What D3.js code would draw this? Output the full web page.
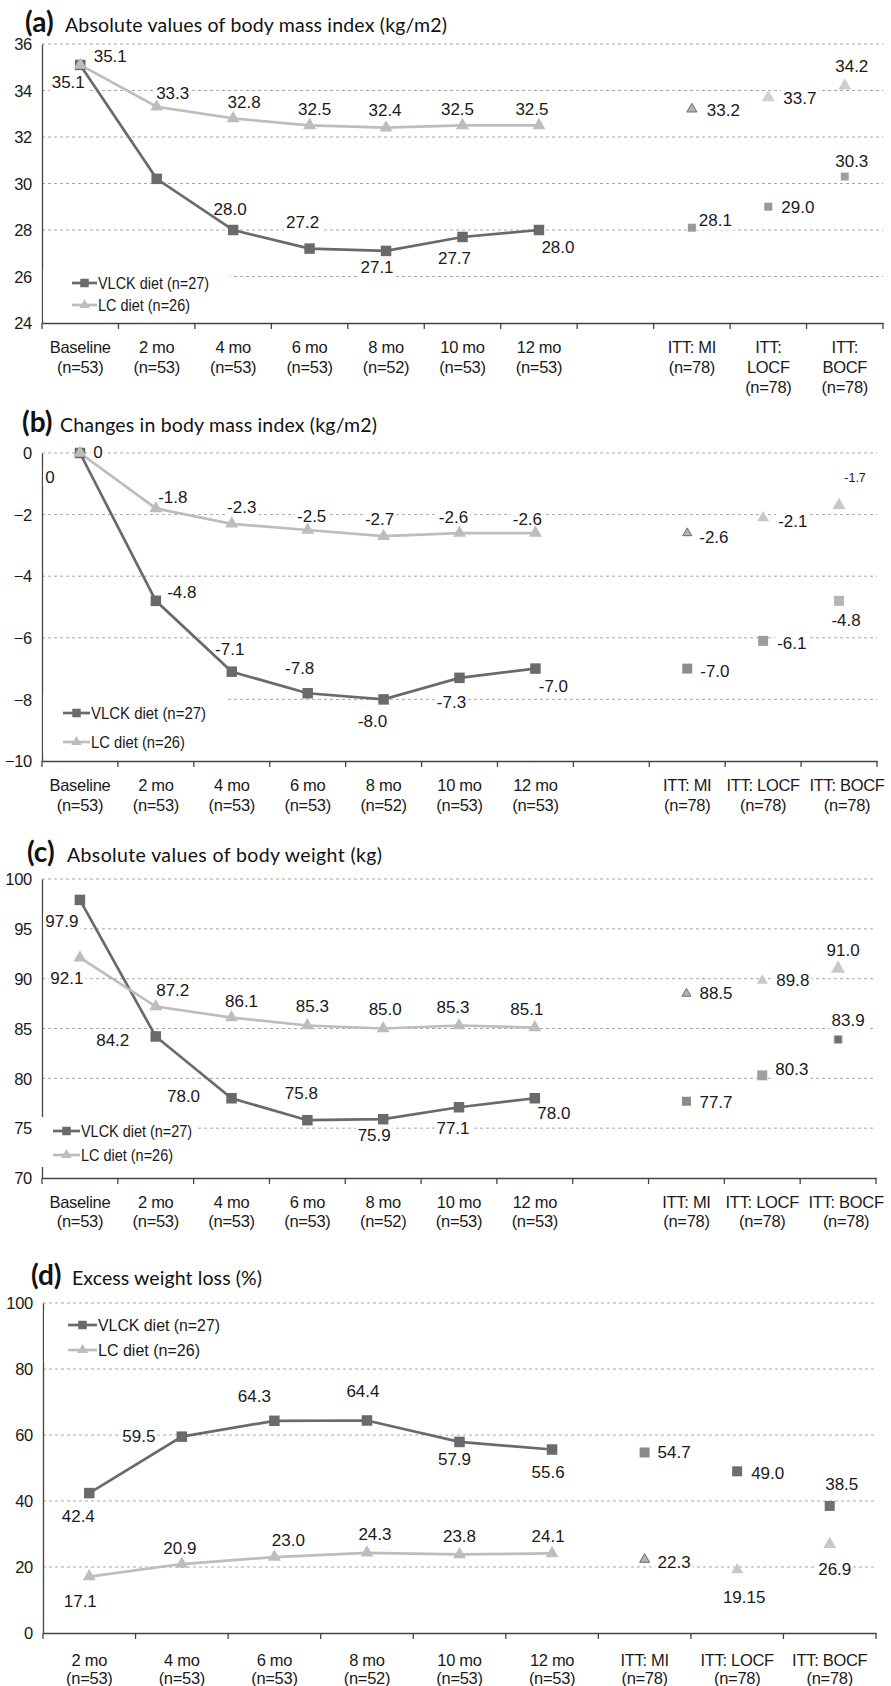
<!DOCTYPE html>
<html>
<head>
<meta charset="utf-8">
<script src="https://cdn.jsdelivr.net/npm/d3@7"></script>
<style>
  body { margin: 0; background: #fff; }
  svg { display: block; font-family: Arial, "Liberation Sans", Helvetica, sans-serif; }
  .title { font-family: Lato, "Open Sans", sans-serif; fill: #111; }
  .grid line { stroke: #a8a8a8; stroke-dasharray: 3, 3; stroke-width: 1; }
  .axis path, .axis line { stroke: #444; stroke-width: 1.3; }
  .axis text { fill: #1a1a1a; font-size: 16.5px; letter-spacing: -0.3px; font-family: Arial, "Liberation Sans", Helvetica, sans-serif; }
  .lbl { fill: #1a1a1a; font-size: 17px; }
  .leg { fill: #1a1a1a; font-size: 16px; }
</style>
</head>
<body>
<svg id="chart"></svg>
<script>
// categories (x tick labels, "\n" = new line)
var timeCats = ["Baseline\n(n=53)", "2 mo\n(n=53)", "4 mo\n(n=53)", "6 mo\n(n=53)",
  "8 mo\n(n=52)", "10 mo\n(n=53)", "12 mo\n(n=53)"];
var ittCatsA = ["ITT: MI\n(n=78)", "ITT:\nLOCF\n(n=78)", "ITT:\nBOCF\n(n=78)"];
var ittCatsBC = ["ITT: MI\n(n=78)", "ITT: LOCF\n(n=78)", "ITT: BOCF\n(n=78)"];
var seriesNames = ["VLCK diet (n=27)", "LC diet (n=26)"];

// (a) absolute BMI
var yTicksA = [24, 26, 28, 30, 32, 34, 36];
var vlckA = [35.1, 30.2, 28.0, 27.2, 27.1, 27.7, 28.0];
var lcA = [35.1, 33.3, 32.8, 32.5, 32.4, 32.5, 32.5];
var ittVlckA = [28.1, 29.0, 30.3];
var ittLcA = [33.2, 33.7, 34.2];

// (b) change in BMI
var yTicksB = [-10, -8, -6, -4, -2, 0];
var vlckB = [0, -4.8, -7.1, -7.8, -8.0, -7.3, -7.0];
var lcB = [0, -1.8, -2.3, -2.5, -2.7, -2.6, -2.6];
var ittVlckB = [-7.0, -6.1, -4.8];
var ittLcB = [-2.6, -2.1, -1.7];

// (c) body weight
var yTicksC = [70, 75, 80, 85, 90, 95, 100];
var vlckC = [97.9, 84.2, 78.0, 75.8, 75.9, 77.1, 78.0];
var lcC = [92.1, 87.2, 86.1, 85.3, 85.0, 85.3, 85.1];
var ittVlckC = [77.7, 80.3, 83.9];
var ittLcC = [88.5, 89.8, 91.0];

// (d) excess weight loss (no baseline)
var yTicksD = [0, 20, 40, 60, 80, 100];
var vlckD = [42.4, 59.5, 64.3, 64.4, 57.9, 55.6];
var lcD = [17.1, 20.9, 23.0, 24.3, 23.8, 24.1];
var ittVlckD = [54.7, 49.0, 38.5];
var ittLcD = [22.3, 19.15, 26.9];

var VLCK = "#6a6a6a", LC = "#bdbdbd";

var svg = d3.select("#chart").attr("width", 891).attr("height", 1686);

function fmt(v) {
  if (v === 0) return "0";
  return Math.abs(v * 10 - Math.round(v * 10)) < 1e-9 ? v.toFixed(1) : String(v);
}

function sym(type, side) {
  if (type === "sq") return d3.symbol(d3.symbolSquare, side * side)();
  return d3.symbol(d3.symbolTriangle, Math.sqrt(3) / 4 * side * side)();
}

function drawPanel(p) {
  var x = d3.scaleBand().domain(d3.range(p.cats.length)).range([p.left, p.right]);
  var y = d3.scaleLinear().domain(p.yDomain).range([p.bottom, p.top]);
  var cx = function(i) { return x(i) + x.bandwidth() / 2; };

  var g = svg.append("g");
  var gGrid = g.append("g").attr("class", "grid");
  var gAxis = g.append("g");
  var gBg = g.append("g");
  var gMarks = g.append("g");
  var gText = g.append("g");

  // title
  g.append("text").attr("class", "title").attr("x", p.tagX).attr("y", p.titleY)
    .attr("font-weight", "bold").attr("font-size", 28).text(p.tag);
  g.append("text").attr("class", "title").attr("x", p.titleX).attr("y", p.titleY)
    .attr("font-size", 19.5).attr("textLength", p.titleW).attr("lengthAdjust", "spacing")
    .text(p.title);

  // gridlines
  gGrid.selectAll("line").data(p.yTicks.filter(function(d) { return d !== p.yDomain[0]; }))
    .join("line")
    .attr("x1", p.left).attr("x2", p.right)
    .attr("y1", function(d) { return y(d); }).attr("y2", function(d) { return y(d); });

  // y axis
  gAxis.append("g").attr("class", "axis")
    .attr("transform", "translate(" + p.left + ",0)")
    .call(d3.axisLeft(y).tickValues(p.yTicks).tickSize(0).tickSizeOuter(0).tickPadding(10))
    .call(function(a) { a.selectAll("text").attr("dy", "0.35em"); });

  // x axis
  var xa = gAxis.append("g").attr("class", "axis")
    .attr("transform", "translate(0," + p.bottom + ")")
    .call(d3.axisBottom(x).tickSize(0).tickSizeOuter(0).tickFormat(function(i) { return p.cats[i]; }));
  xa.selectAll(".tick text").each(function(i) {
    var t = d3.select(this).attr("y", 0).attr("dy", null).text(null);
    var shift = (p.xLabShift && p.xLabShift[i]) || 0;
    p.cats[i].split("\n").forEach(function(s, k) {
      t.append("tspan").attr("x", shift).attr("y", p.xLab1 - p.bottom + k * p.xLabGap)
        .attr("dominant-baseline", "central").text(s);
    });
  });
  xa.selectAll(".bound").data(d3.range(p.cats.length).map(function(i) { return x(i); }).concat([p.right]))
    .join("line").attr("class", "bound")
    .attr("x1", function(d) { return d; }).attr("x2", function(d) { return d; })
    .attr("y1", 0).attr("y2", 6);

  // labels with white background
  function label(px, py, text, o, size) {
    if (!o) return;
    var t = gText.append("text").attr("class", "lbl")
      .attr("x", px + o[0]).attr("y", py + o[1])
      .attr("text-anchor", o[2] || "middle")
      .attr("dominant-baseline", "central").text(text);
    if (size) t.style("font-size", size + "px");
    var b = t.node().getBBox();
    gBg.append("rect").attr("x", b.x - 2).attr("y", b.y).attr("width", b.width + 4)
      .attr("height", b.height).attr("fill", "#fff");
  }

  // series lines
  var series = [
    { vals: p.vlck, color: VLCK, type: "sq", side: 10.5, off: p.off.vlck },
    { vals: p.lc, color: LC, type: "tri", side: 13, off: p.off.lc }
  ];
  var line = d3.line().x(function(d, i) { return cx(i); }).y(function(d) { return y(d); });
  series.forEach(function(s) {
    gMarks.append("path").datum(s.vals).attr("d", line)
      .attr("fill", "none").attr("stroke", s.color).attr("stroke-width", 2.7);
  });
  series.forEach(function(s) {
    gMarks.selectAll(null).data(s.vals).join("path")
      .attr("d", sym(s.type, s.side))
      .attr("transform", function(d, i) { return "translate(" + cx(i) + "," + y(d) + ")"; })
      .attr("fill", s.color);
    s.vals.forEach(function(v, i) { label(cx(i), y(v), fmt(v), s.off[i]); });
  });

  // ITT single points
  [
    { vals: p.ittVlck, type: "sq", st: p.ittStyle.sq, off: p.off.ittVlck },
    { vals: p.ittLc, type: "tri", st: p.ittStyle.tri, off: p.off.ittLc }
  ].forEach(function(s) {
    gMarks.selectAll(null).data(s.vals).join("path")
      .attr("d", function(d, i) { return sym(s.type, s.st[i][0]); })
      .attr("transform", function(d, i) { return "translate(" + cx(p.ittStart + i) + "," + y(d) + ")"; })
      .attr("fill", function(d, i) { return s.st[i][1]; })
      .attr("stroke", function(d, i) { return s.st[i][2] || "none"; })
      .attr("stroke-width", 1);
    s.vals.forEach(function(v, i) {
      label(cx(p.ittStart + i), y(v), fmt(v), s.off[i], s.off[i] && s.off[i][3]);
    });
  });

  // legend
  var L = p.legend;
  var gl = g.append("g");
  gl.append("rect").attr("x", L.box[0]).attr("y", L.box[1]).attr("width", L.box[2])
    .attr("height", L.box[3]).attr("fill", "#fff");
  [[VLCK, "sq", 8.5], [LC, "tri", 10.5]].forEach(function(s, k) {
    var yy = L.rows[k];
    gl.append("line").attr("x1", L.x1).attr("x2", L.x2).attr("y1", yy).attr("y2", yy)
      .attr("stroke", s[0]).attr("stroke-width", 2.7);
    gl.append("path").attr("d", sym(s[1], s[2]))
      .attr("transform", "translate(" + ((L.x1 + L.x2) / 2) + "," + yy + ")").attr("fill", s[0]);
    gl.append("text").attr("class", "leg").attr("x", L.x2 + 1).attr("y", yy)
      .attr("dominant-baseline", "central")
      .attr("textLength", L.w[k]).attr("lengthAdjust", "spacingAndGlyphs")
      .text(seriesNames[k]);
  });
}

drawPanel({
  tag: "(a)", tagX: 25, titleX: 65, titleY: 32, titleW: 382,
  title: "Absolute values of body mass index (kg/m2)",
  left: 42, right: 883, top: 44, bottom: 323, yDomain: [24, 36], yTicks: yTicksA,
  cats: timeCats.concat([""], ittCatsA), ittStart: 8, xLab1: 347, xLabGap: 20,
  vlck: vlckA, lc: lcA, ittVlck: ittVlckA, ittLc: ittLcA,
  ittStyle: {
    sq: [[8, "#9a9a9a"], [8, "#9a9a9a"], [8, "#a0a0a0"]],
    tri: [[10, "#b4b4b4", "#6a6a6a"], [13, "#d0d0d0"], [13, "#cdcdcd"]]
  },
  off: {
    vlck: [[-12, 18], null, [-3, -21], [-7, -26], [-9, 17], [-8, 22], [19, 17]],
    lc: [[30, -8], [16, -13], [11, -16], [5, -16], [-1, -17], [-5, -16], [-7, -16]],
    ittVlck: [[7, -7, "start"], [13, 1, "start"], [7, -15]],
    ittLc: [[15, 1, "start"], [15, 1, "start"], [7, -19]]
  },
  legend: { x1: 72, x2: 97, rows: [283, 305], w: [111, 92], box: [43, 268, 187, 52] }
});

drawPanel({
  tag: "(b)", tagX: 22, titleX: 60, titleY: 432, titleW: 317,
  title: "Changes in body mass index (kg/m2)",
  left: 42, right: 877, top: 453, bottom: 761, yDomain: [-10, 0], yTicks: yTicksB,
  cats: timeCats.concat([""], ittCatsBC), ittStart: 8, xLab1: 785, xLabGap: 20,
  xLabShift: { 10: 8 },
  vlck: vlckB, lc: lcB, ittVlck: ittVlckB, ittLc: ittLcB,
  ittStyle: {
    sq: [[10, "#8e8e8e"], [10, "#9c9c9c"], [10, "#b5b5b5"]],
    tri: [[9, "#b4b4b4", "#6a6a6a"], [12, "#c8c8c8"], [13, "#c8c8c8"]]
  },
  off: {
    vlck: [[-30, 24], [26, -8], [-2, -22], [-8, -25], [-11, 22], [-8, 25], [18, 18]],
    lc: [[18, -1], [17, -11], [10, -16], [4, -14], [-4, -17], [-6, -16], [-8, -14]],
    ittVlck: [[13, 3, "start"], [14, 3, "start"], [7, 20]],
    ittLc: [[12, 4, "start"], [15, 4, "start"], [16, -27, "middle", 12.5]]
  },
  legend: { x1: 63, x2: 90, rows: [713, 742], w: [115, 94], box: [43, 694, 182, 60] }
});

drawPanel({
  tag: "(c)", tagX: 27, titleX: 67, titleY: 862, titleW: 315,
  title: "Absolute values of body weight (kg)",
  left: 42, right: 876, top: 879, bottom: 1178, yDomain: [70, 100], yTicks: yTicksC,
  cats: timeCats.concat([""], ittCatsBC), ittStart: 8, xLab1: 1202, xLabGap: 18.5,
  xLabShift: { 10: 8 },
  vlck: vlckC, lc: lcC, ittVlck: ittVlckC, ittLc: ittLcC,
  ittStyle: {
    sq: [[9, "#8a8a8a"], [10, "#a0a0a0"], [8, "#6e6e6e", "#bbbbbb"]],
    tri: [[9, "#b4b4b4", "#6a6a6a"], [11, "#c8c8c8"], [14, "#c8c8c8"]]
  },
  off: {
    vlck: [[-18, 22], [-43, 4], [-48, -2], [-6, -27], [-9, 16], [-6, 21], [19, 15]],
    lc: [[-13, 21], [17, -16], [10, -16], [5, -19], [2, -19], [-6, -18], [-8, -18]],
    ittVlck: [[13, 1, "start"], [13, -6, "start"], [10, -19]],
    ittLc: [[13, 0, "start"], [14, 0, "start"], [5, -18]]
  },
  legend: { x1: 53, x2: 80, rows: [1131, 1155], w: [111, 92], box: [35, 1117, 160, 50] }
});

drawPanel({
  tag: "(d)", tagX: 31, titleX: 72, titleY: 1285, titleW: 190,
  title: "Excess weight loss (%)",
  left: 43, right: 876, top: 1303, bottom: 1633, yDomain: [0, 100], yTicks: yTicksD,
  cats: timeCats.slice(1).concat(ittCatsBC), ittStart: 6, xLab1: 1660, xLabGap: 17.5,
  vlck: vlckD, lc: lcD, ittVlck: ittVlckD, ittLc: ittLcD,
  ittStyle: {
    sq: [[10, "#8a8a8a"], [10, "#6e6e6e"], [10, "#707070"]],
    tri: [[10, "#b4b4b4", "#6a6a6a"], [12, "#c8c8c8"], [13, "#c8c8c8"]]
  },
  off: {
    vlck: [[-11, 23], [-43, 0], [-20, -24], [-4, -29], [-5, 18], [-4, 23]],
    lc: [[-9, 25], [-2, -16], [14, -17], [8, -18], [0, -18], [-4, -17]],
    ittVlck: [[13, 0, "start"], [14, 2, "start"], [12, -21]],
    ittLc: [[13, 3, "start"], [7, 28], [5, 25]]
  },
  legend: { x1: 68, x2: 97, rows: [1325, 1350], w: [122, 102], box: [44, 1310, 220, 52] }
});
</script>
</body>
</html>
